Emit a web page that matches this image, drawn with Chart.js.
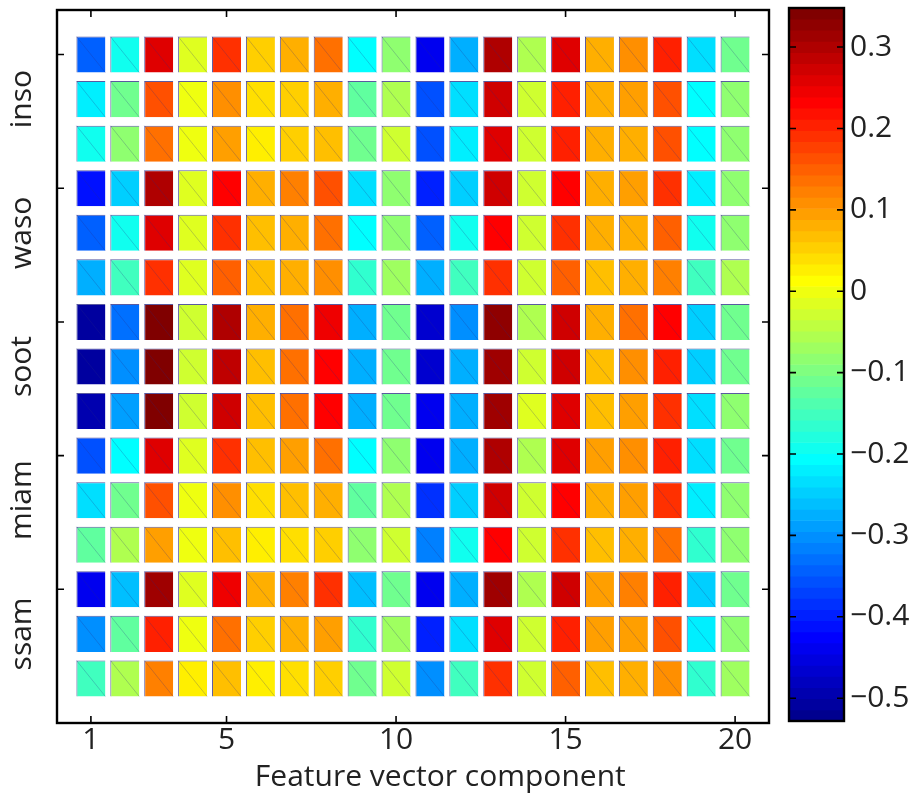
<!DOCTYPE html>
<html>
<head>
<meta charset="utf-8">
<script src="https://cdn.jsdelivr.net/npm/chart.js@4.4.1/dist/chart.umd.min.js"></script>
<style>
  html, body { margin: 0; padding: 0; background: #fff; }
  #wrap { position: relative; width: 915px; height: 795px; }
  #heat { position: absolute; left: 0; top: 0; }
  #bar { position: absolute; left: 760px; top: 0; }
</style>
</head>
<body>
<div id="wrap">
  <canvas id="heat" width="915" height="795"></canvas>
  <canvas id="bar" width="155" height="795"></canvas>
</div>
<script>
// feature vector components (columns) and the aerosol types (3 rows each)
const features = [1, 2, 3, 4, 5, 6, 7, 8, 9, 10, 11, 12, 13, 14, 15, 16, 17, 18, 19, 20];
const groups = ['inso', 'waso', 'soot', 'miam', 'ssam'];
const xTicks = [1, 5, 10, 15, 20];
const cbTicks = [-0.5, -0.4, -0.3, -0.2, -0.1, 0, 0.1, 0.2, 0.3];
const cMin = -0.528, cMax = 0.348;

const insoRows = [
  [-0.35, -0.186, 0.253, -0.008, 0.184, 0.048, 0.087, 0.142, -0.20, -0.077, -0.433, -0.274, 0.297, -0.049, 0.253, 0.087, 0.115, 0.211, -0.23, -0.104],
  [-0.215, -0.104, 0.17, 0.005, 0.115, 0.035, 0.048, 0.087, -0.131, -0.049, -0.363, -0.23, 0.27, -0.035, 0.211, 0.078, 0.101, 0.17, -0.20, -0.09],
  [-0.186, -0.09, 0.142, 0.005, 0.101, 0.02, 0.048, 0.074, -0.117, -0.035, -0.363, -0.215, 0.253, -0.022, 0.211, 0.078, 0.087, 0.17, -0.20, -0.077]
];
const wasoRows = [
  [-0.418, -0.244, 0.297, -0.008, 0.225, 0.078, 0.122, 0.17, -0.23, -0.09, -0.404, -0.244, 0.27, -0.035, 0.225, 0.087, 0.101, 0.184, -0.215, -0.09],
  [-0.35, -0.186, 0.253, -0.008, 0.184, 0.063, 0.087, 0.142, -0.20, -0.077, -0.35, -0.186, 0.225, -0.035, 0.197, 0.087, 0.087, 0.156, -0.186, -0.077],
  [-0.281, -0.145, 0.197, -0.008, 0.156, 0.063, 0.078, 0.115, -0.159, -0.063, -0.268, -0.145, 0.184, -0.022, 0.156, 0.063, 0.078, 0.122, -0.145, -0.049]
];
const sootRows = [
  [-0.514, -0.336, 0.348, -0.035, 0.297, 0.087, 0.129, 0.239, -0.281, -0.117, -0.462, -0.302, 0.326, -0.049, 0.27, 0.087, 0.129, 0.225, -0.244, -0.104],
  [-0.514, -0.309, 0.348, -0.022, 0.284, 0.074, 0.129, 0.225, -0.268, -0.117, -0.462, -0.281, 0.316, -0.035, 0.27, 0.074, 0.115, 0.211, -0.244, -0.104],
  [-0.50, -0.295, 0.348, -0.022, 0.27, 0.074, 0.129, 0.225, -0.268, -0.117, -0.433, -0.268, 0.316, -0.008, 0.253, 0.063, 0.101, 0.197, -0.23, -0.09]
];
const miamRows = [
  [-0.363, -0.20, 0.253, -0.008, 0.184, 0.063, 0.101, 0.142, -0.20, -0.077, -0.433, -0.281, 0.297, -0.049, 0.253, 0.101, 0.115, 0.211, -0.23, -0.104],
  [-0.23, -0.104, 0.17, 0.005, 0.115, 0.035, 0.063, 0.087, -0.131, -0.049, -0.39, -0.244, 0.27, -0.035, 0.225, 0.087, 0.101, 0.184, -0.215, -0.09],
  [-0.131, -0.049, 0.101, 0.005, 0.063, 0.02, 0.035, 0.048, -0.077, -0.022, -0.322, -0.186, 0.225, -0.022, 0.184, 0.063, 0.087, 0.142, -0.172, -0.077]
];
const ssamRows = [
  [-0.445, -0.258, 0.316, -0.008, 0.239, 0.078, 0.122, 0.184, -0.258, -0.104, -0.445, -0.281, 0.316, -0.049, 0.27, 0.101, 0.122, 0.211, -0.244, -0.104],
  [-0.302, -0.131, 0.211, 0.005, 0.142, 0.048, 0.078, 0.101, -0.172, -0.063, -0.404, -0.23, 0.253, -0.035, 0.211, 0.094, 0.101, 0.17, -0.215, -0.09],
  [-0.145, -0.049, 0.122, 0.02, 0.063, 0.02, 0.035, 0.048, -0.104, -0.022, -0.302, -0.145, 0.197, -0.022, 0.156, 0.063, 0.078, 0.115, -0.159, -0.063]
];

// matlab style jet(64)
function jet64(k) {
  const i = k + 1;
  const u = j => (j <= 16 ? j / 16 : j <= 31 ? 1 : (48 - j) / 16);
  const g = i >= 9 && i <= 55 ? u(i - 8) : 0;
  const r = i >= 25 ? u(i - 24) : 0;
  const b = i <= 39 ? u(i + 8) : 0;
  return `rgb(${Math.round(r * 255)},${Math.round(g * 255)},${Math.round(b * 255)})`;
}
function colorFor(v) {
  const k = Math.floor((v - cMin) / (cMax - cMin) * 64);
  return jet64(Math.min(63, Math.max(0, k)));
}

const font = { family: '"Open Sans", "Noto Sans", sans-serif', size: 30 };
const textColor = '#222';

// frame with inward ticks, matlab look
const framePlugin = {
  id: 'frame',
  afterDraw(chart, args, opts) {
    const { ctx, chartArea: a } = chart;
    const tl = 7;
    ctx.save();
    ctx.strokeStyle = '#000';
    ctx.lineWidth = 1.6;
    ctx.beginPath();
    (opts.xMarks || []).forEach(v => {
      const px = chart.scales.x.getPixelForValue(v);
      ctx.moveTo(px, a.bottom); ctx.lineTo(px, a.bottom - tl);
      ctx.moveTo(px, a.top); ctx.lineTo(px, a.top + tl);
    });
    (opts.yMarks || []).forEach(v => {
      const py = chart.scales.y.getPixelForValue(v);
      ctx.moveTo(a.left, py); ctx.lineTo(a.left + tl, py);
      ctx.moveTo(a.right, py); ctx.lineTo(a.right - tl, py);
    });
    ctx.stroke();
    ctx.lineWidth = 2.4;
    ctx.strokeRect(a.left, a.top, a.right - a.left, a.bottom - a.top);
    ctx.restore();
  }
};

// faint diagonal that matlab patches leave in each cell
const diagPlugin = {
  id: 'diag',
  afterDatasetsDraw(chart) {
    const ctx = chart.ctx;
    ctx.save();
    ctx.strokeStyle = 'rgba(40,40,130,0.35)';
    ctx.lineWidth = 0.7;
    ctx.beginPath();
    chart.getDatasetMeta(0).data.forEach(el => {
      const { x, y, base, width } = el.getProps(['x', 'y', 'base', 'width'], true);
      ctx.moveTo(x - width / 2, Math.min(y, base));
      ctx.lineTo(x + width / 2, Math.max(y, base));
    });
    ctx.stroke();
    ctx.restore();
  }
};

// no label overhang padding, keep the frame where it is
function noOverhang(s) {
  s.paddingTop = 0; s.paddingBottom = 0;
  s.paddingLeft = 0; s.paddingRight = 0;
}

const allRows = [insoRows, wasoRows, sootRows, miamRows, ssamRows].flat();
const cells = [];
allRows.forEach((row, r) => {
  row.forEach((v, c) => {
    cells.push({ x: features[c], y: [r + 1 - 0.405, r + 1 + 0.405], v: v });
  });
});

new Chart(document.getElementById('heat'), {
  type: 'bar',
  data: {
    datasets: [{
      data: cells,
      backgroundColor: c => colorFor(c.raw.v),
      borderColor: 'rgba(20,20,120,0.7)',
      borderWidth: { left: 1, top: 1, right: 0, bottom: 0 },
      borderSkipped: false,
      categoryPercentage: 1,
      barPercentage: 0.855
    }]
  },
  options: {
    responsive: false,
    animation: false,
    devicePixelRatio: 1,
    layout: { padding: { top: 10, right: 146, left: 0, bottom: 0 } },
    plugins: {
      legend: { display: false },
      tooltip: { enabled: false },
      frame: { xMarks: xTicks, yMarks: [1, 4, 7, 10, 13] }
    },
    scales: {
      x: {
        type: 'linear',
        min: 0,
        max: 21,
        offset: false,
        grid: { display: false, drawTicks: false },
        border: { display: false },
        afterBuildTicks: s => { s.ticks = xTicks.map(v => ({ value: v })); },
        afterFit: s => { s.height = 72; noOverhang(s); },
        ticks: { font: font, color: textColor, padding: -1, maxRotation: 0 },
        title: {
          display: true,
          text: '       Feature vector component',
          font: font,
          color: textColor,
          padding: 0
        }
      },
      y: {
        type: 'linear',
        min: 0,
        max: 16,
        reverse: true,
        grid: { display: false, drawTicks: false },
        border: { display: false },
        afterBuildTicks: s => { s.ticks = groups.map((g, i) => ({ value: 3 * i + 2 })); },
        afterFit: s => { s.width = 57; noOverhang(s); },
        ticks: {
          font: font,
          color: textColor,
          minRotation: 90,
          maxRotation: 90,
          crossAlign: 'center',
          padding: -5,
          callback: (v) => groups[(v - 2) / 3]
        }
      }
    }
  },
  plugins: [diagPlugin, framePlugin]
});

// colorbar
const levels = [];
for (let k = 0; k < 64; k++) {
  const step = (cMax - cMin) / 64;
  levels.push({ x: 'c', y: [cMin + k * step, cMin + (k + 1) * step] });
}

new Chart(document.getElementById('bar'), {
  type: 'bar',
  data: {
    labels: ['c'],
    datasets: [{
      data: levels,
      backgroundColor: levels.map((l, k) => jet64(k)),
      borderWidth: 0,
      categoryPercentage: 1,
      barPercentage: 1
    }]
  },
  options: {
    responsive: false,
    animation: false,
    devicePixelRatio: 1,
    layout: { padding: { top: 8, left: 29, right: 0, bottom: 74 } },
    plugins: {
      legend: { display: false },
      tooltip: { enabled: false },
      frame: { yMarks: cbTicks }
    },
    scales: {
      x: { display: false },
      y: {
        position: 'right',
        min: cMin,
        max: cMax,
        grid: { display: false, drawTicks: false },
        border: { display: false },
        afterBuildTicks: s => { s.ticks = cbTicks.map(v => ({ value: v })); },
        afterFit: s => { s.width = 71; noOverhang(s); },
        ticks: {
          font: font,
          color: textColor,
          padding: 6,
          callback: v => (v < 0 ? '\u2212' : '') + (v === 0 ? '0' : Math.abs(v).toFixed(1))
        }
      }
    }
  },
  plugins: [framePlugin]
});
</script>
</body>
</html>
